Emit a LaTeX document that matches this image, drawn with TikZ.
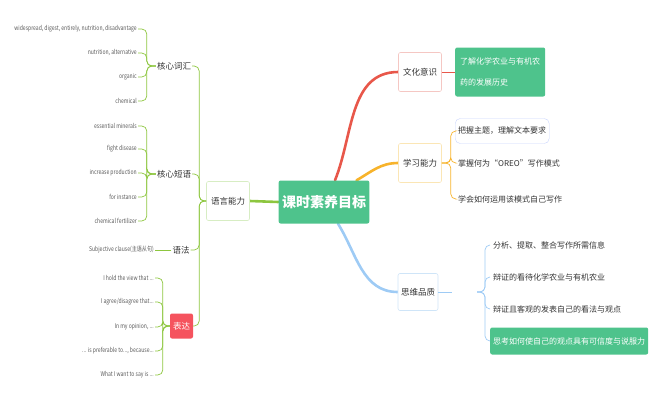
\documentclass[tikz,border=0pt]{standalone}
\usepackage{fontspec}
\setmainfont{Noto Sans CJK SC}
\newfontfamily\leaffont[FakeStretch=0.78]{Noto Sans CJK SC}
\usepackage{xcolor}
\usetikzlibrary{positioning,backgrounds}

\definecolor{rootgreen}{HTML}{4EC38C}
\definecolor{langline}{HTML}{8DC63F}
\definecolor{langbox}{HTML}{D7EDC3}
\definecolor{cultline}{HTML}{E8574A}
\definecolor{cultbox}{HTML}{F5C7C3}
\definecolor{studyline}{HTML}{F7B32B}
\definecolor{studybox}{HTML}{FBE6B5}
\definecolor{thinkline}{HTML}{9ECBF5}
\definecolor{thinkbox}{HTML}{CFE5F8}
\definecolor{exprred}{HTML}{F5535E}

\begin{document}
\begin{tikzpicture}[x=1pt, y=-1pt,
  every node/.style={font=\fontsize{8.5}{10}\selectfont, text=black!80},
  topic/.style={draw, rounded corners=2pt, fill=white, minimum width=43pt, minimum height=39pt, inner sep=2pt, line width=0.6pt},
  sub/.style={inner sep=1pt},
  leaf/.style={anchor=east, inner sep=1pt, font=\leaffont\fontsize{6.5}{7}\selectfont, text=black!65},
  item/.style={anchor=west, inner xsep=3pt, inner ysep=2pt, font=\fontsize{8}{10}\selectfont},
  branch/.style={line width=2.6pt, line cap=round},
  twig/.style={line width=0.7pt, rounded corners=5pt}
]
  \useasboundingbox (0,0) rectangle (662,402);

  % centre and the four topics
  \node (root) at (324,202) [fill=rootgreen, rounded corners=2pt, minimum width=88pt, minimum height=43pt, text=white, font=\fontsize{14}{16}\selectfont\bfseries] {课时素养目标};
  \node (lang)  at (228,201) [topic, draw=langbox]  {语言能力};
  \node (cult)  at (420,72)  [topic, draw=cultbox]  {文化意识};
  \node (study) at (420,163) [topic, draw=studybox] {学习能力};
  \node (think) at (418,292) [topic, draw=thinkbox, minimum width=40pt, minimum height=37pt] {思维品质};

  % left side
  \node (vocab)  at (174,66)  [sub] {核心词汇};
  \node (phrase) at (174,174) [sub] {核心短语};
  \node (gram)   at (181,250) [sub] {语法};
  \node (expr)   at (181.5,326) [fill=exprred, rounded corners=2pt, minimum width=23pt, minimum height=25pt, inner sep=1pt, text=white] {表达};

  \node (v1) at (138,29)  [leaf] {widespread, digest, entirely, nutrition, disadvantage};
  \node (v2) at (138,53)  [leaf] {nutrition, alternative};
  \node (v3) at (138,77)  [leaf] {organic};
  \node (v4) at (138,101) [leaf] {chemical};

  \node (p1) at (138,126) [leaf] {essential minerals};
  \node (p2) at (138,149) [leaf] {fight disease};
  \node (p3) at (138,173) [leaf] {increase production};
  \node (p4) at (138,197) [leaf] {for instance};
  \node (p5) at (138,221) [leaf] {chemical fertilizer};

  \node (g1) at (155,250) [leaf] {Subjective clause(主语从句)};

  \node (e1) at (155,278) [leaf] {I hold the view that ...};
  \node (e2) at (155,302) [leaf] {I agree/disagree that...};
  \node (e3) at (155,327) [leaf] {In my opinion, ...};
  \node (e4) at (155,351) [leaf] {... is preferable to..., because...};
  \node (e5) at (155,375) [leaf] {What I want to say is ...};

  % right side
  \node (k1) at (455,72) [anchor=west, fill=rootgreen, rounded corners=2pt, text=white, align=left, minimum width=90pt, minimum height=49pt, inner xsep=3pt, font=\fontsize{8}{21}\selectfont] {了解化学农业与有机农\\药的发展历史};

  \node (s1) at (455,131) [item, draw=thinkbox!80!blue!60, rounded corners=5pt, minimum height=25pt] {把握主题，理解文本要求};
  \node (s2) at (455,163) [item] {掌握何为“OREO”写作模式};
  \node (s3) at (455,199) [item] {学会如何运用该模式自己写作};

  \node (t1) at (490,245) [item] {分析、提取、整合写作所需信息};
  \node (t2) at (490,277) [item] {辩证的看待化学农业与有机农业};
  \node (t3) at (490,309) [item] {辩证且客观的发表自己的看法与观点};
  \node (t4) at (490,341) [item, fill=rootgreen, rounded corners=2pt, minimum height=27pt, text=white] {思考如何使自己的观点具有可信度与说服力};
  \coordinate (tj) at (477,292);

  % connectors
  \begin{scope}[on background layer]
    \draw[branch, langline] (root.west) -- (lang.east);
    \draw[branch, cultline] ([xshift=11pt]root.north) to[out=68, in=180] (cult.west);
    \draw[branch, studyline] ([xshift=-13pt]root.north east) to[out=30, in=180] (study.west);
    \draw[branch, thinkline] ([xshift=14pt]root.south) to[out=-58, in=180] (think.west);
  \end{scope}

  \foreach \c in {vocab,phrase,gram,expr} \draw[twig, langline] (lang.west) -- ++(-7,0) |- (\c.east);
  \foreach \c in {v1,v2,v3,v4} \draw[twig, langline] (vocab.west) -- ++(-9,0) |- (\c.east);
  \foreach \c in {p1,p2,p3,p4,p5} \draw[twig, langline] (phrase.west) -- ++(-9,0) |- (\c.east);
  \draw[twig, langline] (gram.west) -- (g1.east);
  \foreach \c in {e1,e2,e3,e4,e5} \draw[twig, langline] (expr.west) -- ++(-7,0) |- (\c.east);

  \draw[twig, cultline] (cult.east) -- (k1.west);
  \foreach \c in {s1,s2,s3} \draw[twig, studyline] (study.east) -- ++(9,0) |- (\c.west);
  \draw[twig, thinkline] (think.east) -- ++(14,0);
  \foreach \c in {t1,t2,t3,t4} \draw[twig, thinkline] (tj) -- ++(8,0) |- (\c.west);
\end{tikzpicture}
\end{document}
